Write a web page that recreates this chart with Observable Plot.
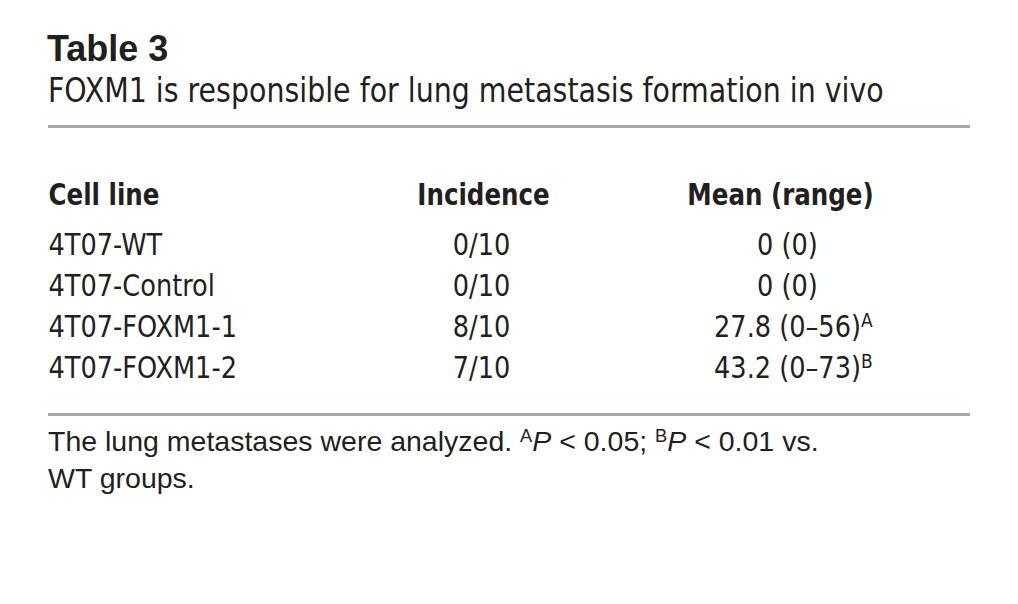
<!DOCTYPE html>
<html>
<head>
<meta charset="utf-8">
<script src="https://cdn.jsdelivr.net/npm/d3@7"></script>
<script src="https://cdn.jsdelivr.net/npm/@observablehq/plot@0.6"></script>
<style>
  body { margin: 0; background: #ffffff; }
  #page { position: relative; width: 1018px; height: 604px; overflow: hidden; color: #231f20; }
  .narrow { font-family: "DejaVu Sans Condensed", "Liberation Sans Narrow", "Roboto", sans-serif; }
  .wide { font-family: "Liberation Sans", Arial, Helvetica, sans-serif; }
  #title { position: absolute; left: 47px; top: 31px; font-size: 36px; line-height: 36px; font-weight: bold; white-space: nowrap; }
  #subtitle { position: absolute; left: 48px; top: 74px; font-size: 33px; line-height: 33px; white-space: nowrap;
              transform: scaleX(0.958); transform-origin: 0 0; }
  .rule { position: absolute; left: 48px; width: 922px; height: 3px; background: #a7a9ac; }
  #rule-top { top: 125px; }
  #rule-bottom { top: 413px; }
  #chart { position: absolute; left: 0; top: 128px; }
  #caption { position: absolute; left: 48px; top: 423px; font-size: 28.5px; line-height: 37px; white-space: nowrap; }
  #caption sup { font-size: 0.64em; vertical-align: 0.5em; line-height: 0; }
</style>
</head>
<body>
<div id="page">
  <div id="title" class="wide"></div>
  <div id="subtitle" class="narrow"></div>
  <div class="rule" id="rule-top"></div>
  <div id="chart"></div>
  <div class="rule" id="rule-bottom"></div>
  <div id="caption" class="wide">The lung metastases were analyzed. <sup>A</sup><i>P</i> &lt; 0.05; <sup>B</sup><i>P</i> &lt; 0.01 vs.<br>WT groups.</div>
</div>
<script>
// ---- data ----
const tableTitle = "Table 3";
const tableSubtitle = "FOXM1 is responsible for lung metastasis formation in vivo";
const headers = ["Cell line", "Incidence", "Mean (range)"];
const cellLines = ["4T07-WT", "4T07-Control", "4T07-FOXM1-1", "4T07-FOXM1-2"];
const incidence = ["0/10", "0/10", "8/10", "7/10"];
const meanValues = [0, 0, 27.8, 43.2];
const rangeLow = [0, 0, 0, 0];
const rangeHigh = [0, 0, 56, 73];
const significance = ["", "", "A", "B"];

// ---- layout ----
const narrowFont = '"DejaVu Sans Condensed", "Liberation Sans Narrow", "Roboto", sans-serif';
const textColor = "#231f20";
const columnLayout = [
  {anchor: "start", dx: 48, headerDx: 48},
  {anchor: "middle", dx: 481, headerDx: 483},
  {anchor: "middle", dx: 787, headerDx: 780}
];
const headerSqueeze = 0.88;
const bodySqueeze = 0.95;

document.getElementById("title").textContent = tableTitle;
document.getElementById("subtitle").textContent = tableSubtitle;

function fmtMean(i) {
  const m = meanValues[i];
  const r = rangeLow[i] === rangeHigh[i] ? `${rangeLow[i]}` : `${rangeLow[i]}\u2013${rangeHigh[i]}`;
  return `${m} (${r})`;
}

const rows = cellLines.map((c, i) => ({
  cell: c,
  incidence: incidence[i],
  mean: fmtMean(i),
  sig: significance[i]
}));
const columnsText = [d => d.cell, d => d.incidence, d => d.mean];

const marks = [];
headers.forEach((h, j) => {
  marks.push(Plot.text([h], {
    text: d => d,
    frameAnchor: "top-left",
    dx: columnLayout[j].headerDx,
    dy: 76,
    textAnchor: columnLayout[j].anchor,
    lineAnchor: "bottom",
    fontWeight: "bold",
    fontSize: 31,
    fill: textColor,
    ariaLabel: "header"
  }));
  marks.push(Plot.text(rows, {
    y: "cell",
    text: columnsText[j],
    frameAnchor: "left",
    dx: columnLayout[j].dx,
    textAnchor: columnLayout[j].anchor,
    lineAnchor: "bottom",
    fontSize: 30,
    fill: textColor
  }));
});

const chart = Plot.plot({
  width: 1018,
  height: 285,
  margin: 0,
  style: {fontFamily: narrowFont, color: textColor, background: "transparent", overflow: "visible"},
  x: {axis: null},
  y: {type: "point", domain: cellLines, range: [125, 249.5], padding: 0, axis: null},
  marks
});
document.getElementById("chart").appendChild(chart);

// condense glyphs horizontally to mimic the condensed face of the original
chart.querySelectorAll("text").forEach(t => {
  const bold = t.parentNode.getAttribute("font-weight") === "bold";
  const s = bold ? headerSqueeze : bodySqueeze;
  const tr = t.getAttribute("transform") || "";
  t.setAttribute("transform", `${tr} scale(${s},1)`);
});

// superscript significance letters on the mean column
const sigByMean = new Map(rows.filter(r => r.sig).map(r => [r.mean, r.sig]));
chart.querySelectorAll("text").forEach(t => {
  const s = sigByMean.get(t.textContent);
  if (!s) return;
  const ts = document.createElementNS("http://www.w3.org/2000/svg", "tspan");
  ts.setAttribute("font-size", "20");
  ts.setAttribute("dy", "-10");
  ts.textContent = s;
  t.appendChild(ts);
  const w = ts.getComputedTextLength();
  t.setAttribute("x", w / 2);
});
</script>
</body>
</html>
